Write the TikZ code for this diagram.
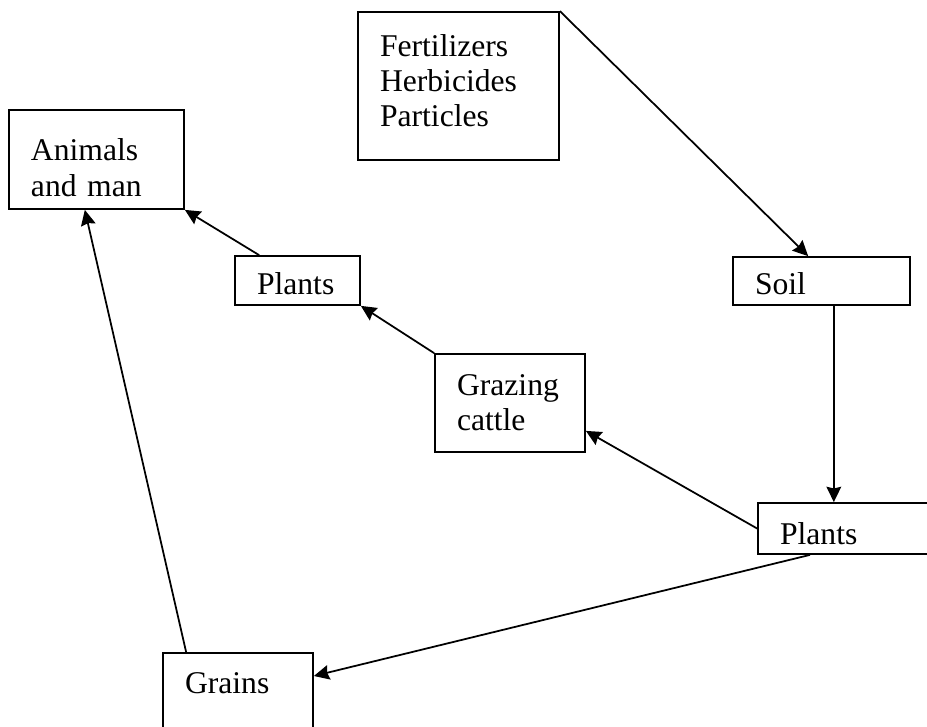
\documentclass[tikz,border=0pt]{standalone}
\usepackage{fontspec}
\setmainfont{Liberation Serif}
\usetikzlibrary{arrows.meta,positioning}

\begin{document}
\begin{tikzpicture}[
    x=0.03cm, y=-0.03cm,
    box/.style={rectangle, draw=black, line width=1.5pt, inner xsep=0.66cm, align=left, font=\fontsize{27}{30}\selectfont},
    arr/.style={-{Stealth[length=0.46cm, width=0.44cm, inset=0.05cm]}, line width=1.5pt}
]
    \path[use as bounding box] (0,0) rectangle (927,726);
    \clip (0,0) rectangle (927,726);

    % Inputs and soil
    \node[box, text width=4.71cm, minimum height=4.44cm] (fert) at (458.5,86) {Fertilizers\\Herbicides\\Particles\rule[-0.33cm]{0pt}{0pt}};
    \node[box, text width=3.99cm, minimum height=1.44cm, text height=0.83cm] (soil) at (821.5,281) {Soil};

    % Food chain
    \node[box, text width=3.93cm, minimum height=2.97cm] (animals) at (96.5,159.5) {\rule{0pt}{1.15cm}Animals\\and man};
    \node[box, text width=2.43cm, minimum height=1.47cm, text height=0.83cm] (plantsU) at (297.5,280.5) {Plants};
    \node[box, text width=3.18cm, minimum height=2.94cm] (grazing) at (510,403) {Grazing\\cattle};
    \node[box, text width=3.96cm, minimum height=1.53cm, text height=0.95cm] (plantsL) at (846,528.5) {Plants};
    \node[box, text width=3.18cm, anchor=north, text height=1.11cm, text depth=3cm] (grains) at (238,652) {Grains};

    % Arrows
    \draw[arr] (fert.north east) -- ([xshift=-0.4cm]soil.north);
    \draw[arr] ([xshift=0.37cm]soil.south) -- ([xshift=0.37cm]soil.south |- plantsL.north);
    \draw[arr] (plantsL.west) -- ([yshift=0.66cm]grazing.south east);
    \draw[arr] (grazing.north west) -- (plantsU.south east);
    \draw[arr] ([xshift=0.75cm]plantsU.north west) -- (animals.south east);
    \draw[arr] ([xshift=-1.08cm]plantsL.south) -- ([yshift=-0.72cm]grains.north east);
    \draw[arr] ([xshift=0.72cm]grains.north west) -- ([xshift=-0.35cm]animals.south);
\end{tikzpicture}
\end{document}
